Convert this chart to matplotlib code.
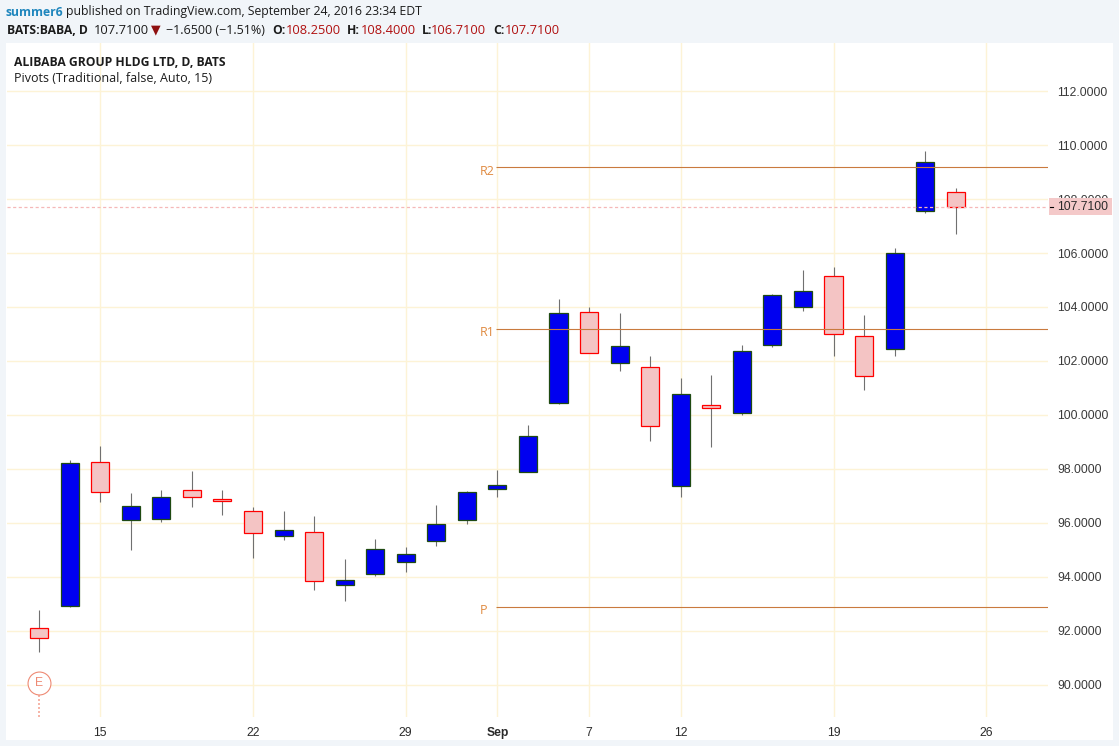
import matplotlib
matplotlib.use('Agg')
import matplotlib.pyplot as plt
from matplotlib.patches import Rectangle

# daily candles
opens = [92.09, 92.91, 98.25, 96.10, 96.14, 97.21, 96.88, 96.43, 95.53, 95.66, 93.69, 94.10, 94.54, 95.32, 96.10, 97.25,
         97.90, 100.43, 103.80, 101.91, 101.77, 97.36, 100.36, 100.06, 102.58, 103.99, 105.14, 102.91, 102.43, 107.54, 108.25]
highs = [92.78, 98.33, 98.85, 97.11, 97.22, 97.93, 97.22, 96.59, 96.44, 96.26, 94.67, 95.41, 95.11, 96.67, 97.19, 97.96,
         99.63, 104.30, 104.00, 103.78, 102.19, 101.37, 101.48, 102.59, 104.48, 105.37, 105.48, 103.70, 106.19, 109.78, 108.40]
lows = [91.22, 92.90, 96.79, 95.01, 96.05, 96.60, 96.31, 94.71, 95.38, 93.53, 93.09, 94.05, 94.20, 95.16, 95.97, 96.97,
        97.89, 100.42, 102.28, 101.64, 99.05, 96.97, 98.83, 100.01, 102.53, 103.86, 102.20, 100.94, 102.20, 107.49, 106.71]
closes = [91.73, 98.21, 97.14, 96.62, 96.95, 96.95, 96.80, 95.62, 95.73, 93.84, 93.88, 95.03, 94.84, 95.95, 97.14, 97.40,
          99.21, 103.77, 102.29, 102.54, 99.58, 100.77, 100.25, 102.36, 104.43, 104.60, 102.99, 101.43, 105.99, 109.36, 107.71]

pivot_names = ['R2', 'R1', 'P']
pivot_values = [109.17, 103.19, 92.89]
pivot_start = 14.95
pivot_label_x = 14.43

last_price = 107.71
earnings_bar = 0
earnings_value = 90.07

y_ticks = [90, 92, 94, 96, 98, 100, 102, 104, 106, 108, 110, 112]
x_ticks = [2, 7, 12, 15, 18, 21, 26, 31]
x_labels = ['15', '22', '29', 'Sep', '7', '12', '19', '26']

W, H = 1119, 746
BG = '#f1f5f9'
GRID = '#fdf3d6'
UP_FILL, UP_EDGE = '#0000f0', '#1f4a12'
DOWN_FILL, DOWN_EDGE = '#f4c4c4', '#ff0000'
PIVOT = '#c97a3e'
UI_FONT = 'Open Sans'
AXIS_FONT = 'Liberation Sans'

fig = plt.figure(figsize=(W / 100, H / 100), dpi=100, facecolor=BG)
fig.patches.append(Rectangle((6 / W, 1 - 740 / H), 1107 / W, 697 / H, transform=fig.transFigure,
                             facecolor='white', edgecolor='none', zorder=-1))

ax = fig.add_axes([7 / W, 1 - 717 / H, 1041 / W, 674 / H], facecolor='none')
ax.set_xlim(-1.05, 33.02)
ax.set_ylim(88.81, 113.78)
for s in ax.spines.values():
    s.set_visible(False)

ax.set_yticks(y_ticks)
ax.set_yticklabels(['%.4f' % v for v in y_ticks], family=AXIS_FONT, fontsize=8.7, color='#3a3a3a')
ax.yaxis.tick_right()
ax.set_xticks(x_ticks)
ax.set_xticklabels(x_labels, family=AXIS_FONT, fontsize=8.7, color='#2a2a2a')
ax.get_xticklabels()[3].set_fontweight('bold')
ax.tick_params(axis='both', length=0)
ax.tick_params(axis='y', pad=6.5)
ax.tick_params(axis='x', pad=7)
ax.grid(True, color=GRID, linewidth=1.0, zorder=0)
ax.set_axisbelow(True)

# candles
body_width = 0.59
for i in range(len(opens)):
    up = closes[i] >= opens[i]
    ax.vlines(i, lows[i], highs[i], color='#707070', linewidth=0.8, zorder=2)
    ax.bar(i, abs(closes[i] - opens[i]), bottom=min(opens[i], closes[i]), width=body_width,
           color=UP_FILL if up else DOWN_FILL, edgecolor=UP_EDGE if up else DOWN_EDGE,
           linewidth=0.9, zorder=3)

# pivots
for name, value in zip(pivot_names, pivot_values):
    ax.hlines(value, pivot_start, 33.02, color=PIVOT, linewidth=0.8, zorder=4)
    ax.text(pivot_label_x, value - 0.15, name, ha='left', va='center', family=UI_FONT,
            fontsize=9, color='#e08a40', zorder=4)

# last price line and its label, the box hides part of the 108 tick label
ax.axhline(last_price, color='#f5b8b8', linewidth=0.9, linestyle=(0, (2.5, 2)), zorder=5)
ax.add_patch(Rectangle((1.001, last_price - 0.31), 0.0605, 0.63, transform=ax.get_yaxis_transform(),
                       facecolor='#f4c9c9', edgecolor='none', clip_on=False, zorder=6))
ax.annotate('%.4f' % last_price, xy=(1, last_price), xycoords=('axes fraction', 'data'),
            xytext=(9, 0), textcoords='offset pixels', ha='left', va='center', family=AXIS_FONT,
            fontsize=8.7, color='#2a2a2a', zorder=7, annotation_clip=False)
ax.plot([1.002, 1.005], [last_price, last_price], transform=ax.get_yaxis_transform(), color='black',
        linewidth=0.8, clip_on=False, zorder=7)

# earnings marker
ax.vlines(earnings_bar, 88.81, earnings_value - 0.4, color='#f5a898', linewidth=1.2,
          linestyle=(0, (1.2, 1.2)), zorder=3)
ax.plot(earnings_bar, earnings_value, 'o', markersize=16.5, markerfacecolor='white', markeredgecolor='#ee8a74',
        markeredgewidth=0.8, zorder=4)
ax.text(earnings_bar, earnings_value, 'E', ha='center', va='center', family=AXIS_FONT, fontsize=8.7,
        color='#ee8a74', zorder=5)


def head(x_px, y_px, s, color='#1c1c1c', weight='normal', family=UI_FONT, size=9.0):
    if weight == 'bold':
        size = 8.75
    fig.text(x_px / W, 1 - y_px / H, s, color=color, fontweight=weight, family=family, fontsize=size,
             ha='left', va='center')


# header rows
head(6, 12, 'summer6', color='#1f86bd', weight='bold')
head(66, 12, 'published on TradingView.com, September 24, 2016 23:34 EDT', size=8.85)
head(7, 30, 'BATS:BABA, D', weight='bold')
head(94, 30, '107.7100', size=9.3)
head(151, 30, '▼', color='#8f1010', family='DejaVu Sans', size=9)
head(166, 30, '−1.6500 (−1.51%)')
head(272, 30, 'O:', weight='bold')
head(286, 30, '108.2500', color='#b01010', size=9.3)
head(347, 30, 'H:', weight='bold')
head(361, 30, '108.4000', color='#b01010', size=9.3)
head(422, 30, 'L:', weight='bold')
head(431, 30, '106.7100', color='#b01010', size=9.3)
head(493, 30, 'C:', weight='bold')
head(505, 30, '107.7100', color='#b01010', size=9.3)

# legend text
head(14, 62, 'ALIBABA GROUP HLDG LTD, D, BATS', weight='bold')
head(14, 78, 'Pivots (Traditional, false, Auto, 15)')

fig.savefig('out.png', dpi=100, facecolor=BG)
